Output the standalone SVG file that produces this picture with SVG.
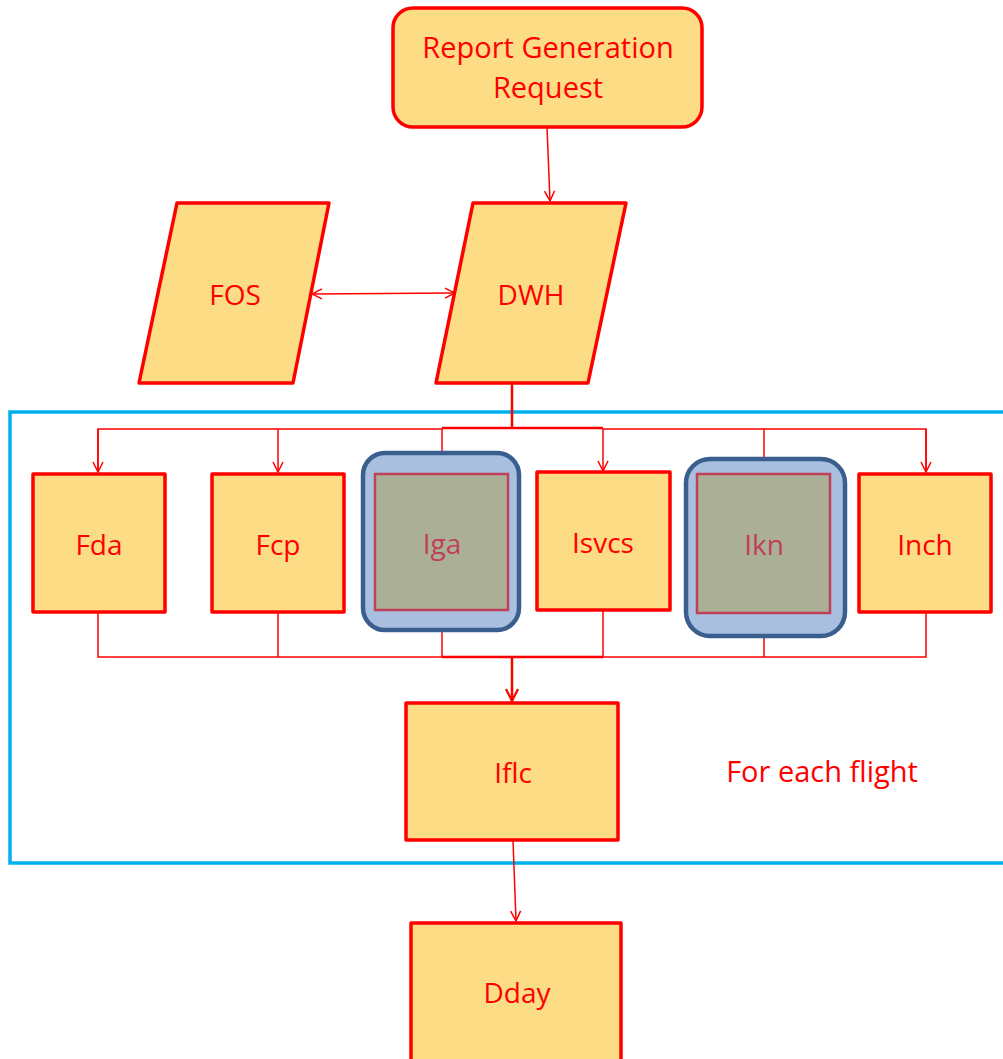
<svg xmlns="http://www.w3.org/2000/svg" width="1003" height="1059" viewBox="0 0 1003 1059">
<defs>
<marker id="arr" viewBox="0 0 12 12" refX="11" refY="6" markerWidth="12" markerHeight="12" markerUnits="userSpaceOnUse" orient="auto">
<path d="M1,1 L11,6 L1,11" fill="none" stroke="#FF0000" stroke-width="1.5"/>
</marker>
<marker id="arrs" viewBox="0 0 12 12" refX="1" refY="6" markerWidth="12" markerHeight="12" markerUnits="userSpaceOnUse" orient="auto">
<path d="M11,1 L1,6 L11,11" fill="none" stroke="#FF0000" stroke-width="1.5"/>
</marker>
<marker id="arrb" viewBox="0 0 14 14" refX="13" refY="7" markerWidth="14" markerHeight="14" markerUnits="userSpaceOnUse" orient="auto">
<path d="M1,1 L13,7 L1,13" fill="none" stroke="#FF0000" stroke-width="2.2"/>
</marker>
</defs>
<style>
.box{fill:#FCDC85;stroke:#FF0000;stroke-width:3.5;stroke-linejoin:round}
.hl{fill:#A9BFE0;stroke:#3A5F8F;stroke-width:4.5}
.inner{fill:#AAAF96;stroke:#C0405A;stroke-width:2.5}
.t{font-family:"Open Sans","Noto Sans","Liberation Sans",sans-serif;font-size:28px;fill:#FF0000;text-anchor:middle}
.big{font-size:29px}
.ti{fill:#C0405A}
.c{fill:none;stroke:#FF0000;stroke-width:1.5}
.ct{fill:none;stroke:#FF0000;stroke-width:2.5}
</style>
<rect x="0" y="0" width="1003" height="1059" fill="#FFFFFF"/>
<g id="container">
<rect x="10" y="412" width="1010" height="451" fill="none" stroke="#00B0F0" stroke-width="3.5"/>
</g>
<g id="connectors">
<line class="c" x1="547" y1="127" x2="550" y2="201" marker-end="url(#arr)"/>
<line class="c" x1="312" y1="294" x2="455" y2="293" marker-start="url(#arrs)" marker-end="url(#arr)"/>
<line class="ct" x1="512" y1="384" x2="512" y2="429"/>
<polyline class="c" points="98,472 98,429 442,429"/>
<line class="ct" x1="442" y1="428" x2="603" y2="428"/>
<polyline class="c" points="603,429 926,429 926,472"/>
<line class="c" x1="98" y1="429" x2="98" y2="472" marker-end="url(#arr)"/>
<line class="c" x1="278" y1="429" x2="278" y2="472" marker-end="url(#arr)"/>
<line class="c" x1="442" y1="429" x2="442" y2="472" marker-end="url(#arr)"/>
<line class="c" x1="603" y1="429" x2="603" y2="471" marker-end="url(#arr)"/>
<line class="c" x1="764" y1="429" x2="764" y2="473" marker-end="url(#arr)"/>
<line class="c" x1="926" y1="429" x2="926" y2="472" marker-end="url(#arr)"/>
<polyline class="c" points="98,612 98,657 926,657 926,612"/>
<line class="c" x1="278" y1="612" x2="278" y2="657"/>
<line class="c" x1="442" y1="610" x2="442" y2="657"/>
<line class="c" x1="603" y1="610" x2="603" y2="657"/>
<line class="c" x1="764" y1="613" x2="764" y2="657"/>
<line class="ct" x1="442" y1="657" x2="603" y2="657"/>
<line class="ct" x1="512" y1="657" x2="512" y2="701" marker-end="url(#arrb)"/>
<line class="c" x1="513" y1="840" x2="516" y2="921" marker-end="url(#arr)"/>
</g>
<g id="report">
<rect class="box" x="393" y="8" width="309" height="119" rx="20"/>
<text class="t big" x="548" y="58">Report Generation</text>
<text class="t big" x="548" y="98">Request</text>
</g>
<g id="fos">
<polygon class="box" points="177,203 329,203 293,383 139,383"/>
<text class="t" x="235" y="305">FOS</text>
</g>
<g id="dwh">
<polygon class="box" points="473,203 626,203 588,383 436,383"/>
<text class="t" x="531" y="305">DWH</text>
</g>
<g id="fda">
<rect class="box" x="33" y="474" width="132" height="138"/>
<text class="t" x="99" y="555">Fda</text>
</g>
<g id="fcp">
<rect class="box" x="212" y="474" width="132" height="138"/>
<text class="t" x="278" y="555">Fcp</text>
</g>
<g id="iga">
<rect class="hl" x="363" y="453" width="156" height="177" rx="22"/>
<rect class="inner" x="375" y="474" width="133" height="136"/>
<text class="t ti" x="442" y="554">Iga</text>
</g>
<g id="isvcs">
<rect class="box" x="537" y="472" width="133" height="138"/>
<text class="t" x="603" y="553">Isvcs</text>
</g>
<g id="ikn">
<rect class="hl" x="686" y="459" width="159" height="177" rx="24"/>
<rect class="inner" x="697" y="474" width="133" height="139"/>
<text class="t ti" x="764" y="555">Ikn</text>
</g>
<g id="inch">
<rect class="box" x="859" y="474" width="132" height="138"/>
<text class="t" x="925" y="555">Inch</text>
</g>
<g id="iflc">
<rect class="box" x="406" y="703" width="212" height="137"/>
<text class="t" x="513" y="783">Iflc</text>
</g>
<g id="label">
<text class="t big" x="822" y="782">For each flight</text>
</g>
<g id="dday">
<rect class="box" x="411" y="923" width="210" height="145"/>
<text class="t" x="517" y="1003">Dday</text>
</g>
</svg>
